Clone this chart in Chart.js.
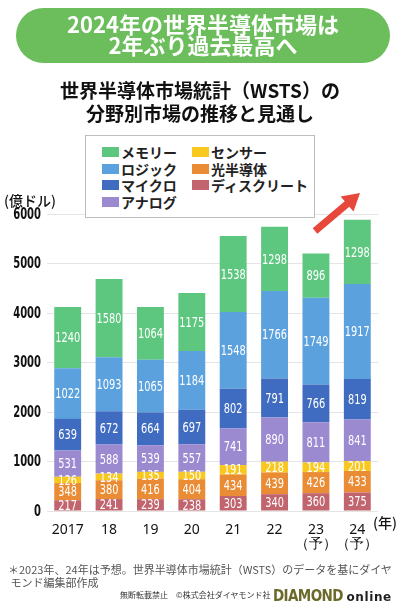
<!DOCTYPE html>
<html lang="ja">
<head>
<meta charset="utf-8">
<script src="https://cdn.jsdelivr.net/npm/chart.js@4"></script>
<style>
  body { margin: 0; background: #fff; font-family: "Noto Sans CJK JP", sans-serif; }
  #page { position: relative; width: 400px; height: 608px; overflow: hidden; }
  #chart { position: absolute; left: 0; top: 0; }
  .banner {
    position: absolute; left: 16px; top: 8px; width: 374px; height: 55px;
    border-radius: 28px; background: #6cbe5c; color: #fff;
    font-weight: 700; font-size: 22px; line-height: 21px; text-align: center;
    box-sizing: border-box; padding-top: 5px;
  }
  .subtitle {
    position: absolute; left: 0; width: 400px; top: 78px;
    font-weight: 700; font-size: 19px; line-height: 23px; text-align: center; color: #111;
  }
  #legend {
    position: absolute; left: 85px; top: 135px; width: 230px; height: 83px;
    box-sizing: border-box; border: 1px solid #bdbdbd; background: #fff; z-index: 2;
  }
  .item { position: absolute; font-weight: 700; font-size: 14px; line-height: 16px; color: #222; white-space: nowrap; }
  .item span.sw { position: absolute; left: -19px; top: 3px; width: 17px; height: 10px; }
  .unit { position: absolute; font-size: 14px; color: #111; font-weight: 500; white-space: nowrap; }
  .note { position: absolute; left: 8px; top: 563px; font-size: 11px; line-height: 13px; color: #555; width: 392px; }
  .copy { position: absolute; left: 120px; top: 589px; font-size: 8px; color: #333; }
  .brand { position: absolute; left: 273px; top: 586px; font-weight: 700; white-space: nowrap; line-height: 16px; }
  .brand .d { font-family: "DejaVu Sans Condensed", sans-serif; font-size: 15px; color: #6b6a2a; letter-spacing: -0.6px; }
  .brand .o { font-family: "DejaVu Sans", sans-serif; font-size: 12px; color: #1f1f1f; letter-spacing: 0.6px; }
</style>
</head>
<body>
<div id="page">
  <canvas id="chart" width="400" height="608"></canvas>
  <div class="banner">2024年の世界半導体市場は<br>2年ぶり過去最高へ</div>
  <div class="subtitle">世界半導体市場統計（WSTS）の<br>分野別市場の推移と見通し</div>
  <div id="legend"></div>
  <div class="unit" style="left:4px; top:190px;">(億ドル)</div>
  <div class="unit" style="left:373px; top:512px;">(年)</div>
  <svg style="position:absolute; left:0; top:0;" width="400" height="608">
    <polygon fill="#e8473b" points="317.3,233.7 349.3,206.7 353.5,211.6 360,193 340.6,196.4 344.7,201.3 312.7,228.3"/>
  </svg>
  <div class="note">＊2023年、24年は予想。世界半導体市場統計（WSTS）のデータを基にダイヤ<br>&nbsp;モンド編集部作成</div>
  <div class="copy">無断転載禁止　©株式会社ダイヤモンド社</div>
  <div class="brand"><span class="d">DIAMOND</span> <span class="o">online</span></div>
</div>
<script>
// 年
const years = ['2017', '18', '19', '20', '21', '22', ['23', '（予）'], ['24', '（予）']];

// 分野別市場（億ドル）
const discrete = [217, 241, 239, 238, 303, 340, 360, 375];
const opto = [348, 380, 416, 404, 434, 439, 426, 433];
const sensor = [126, 134, 135, 150, 191, 218, 194, 201];
const analog = [531, 588, 539, 557, 741, 890, 811, 841];
const micro = [639, 672, 664, 697, 802, 791, 766, 819];
const logic = [1022, 1093, 1065, 1184, 1548, 1766, 1749, 1917];
const memory = [1240, 1580, 1064, 1175, 1538, 1298, 896, 1298];

const yTicks = [0, 1000, 2000, 3000, 4000, 5000, 6000];

const narrow = '"DejaVu Sans Condensed", sans-serif';

// 細長い数字を描く（横方向に縮める）
function narrowText(ctx, text, x, y, sx) {
    ctx.save();
    ctx.translate(x, y);
    ctx.scale(sx, 1);
    ctx.fillText(text, 0, 0);
    ctx.restore();
}

// 積み上げの中の数値と、Y軸の目盛り数字
const numberLabels = {
    id: 'numberLabels',
    afterDatasetsDraw(chart) {
        const ctx = chart.ctx;
        ctx.save();
        ctx.fillStyle = '#fff';
        ctx.font = '14px ' + narrow;
        ctx.textAlign = 'center';
        ctx.textBaseline = 'middle';
        chart.data.datasets.forEach((ds, i) => {
            chart.getDatasetMeta(i).data.forEach((bar, j) => {
                narrowText(ctx, ds.data[j], bar.x, (bar.y + bar.base) / 2 + 1, 0.78);
            });
        });

        const y = chart.scales.y;
        ctx.fillStyle = '#111';
        ctx.font = 'bold 15px ' + narrow;
        ctx.textAlign = 'right';
        y.ticks.forEach(t => {
            narrowText(ctx, String(t.value), y.right - 6, y.getPixelForValue(t.value) + 1, 0.74);
        });
        ctx.restore();
    }
};

const chart = new Chart(document.getElementById('chart'), {
    type: 'bar',
    data: {
        labels: years,
        datasets: [
            { label: 'ディスクリート', data: discrete, backgroundColor: '#c1646d' },
            { label: '光半導体', data: opto, backgroundColor: '#ea8c35' },
            { label: 'センサー', data: sensor, backgroundColor: '#f8c81e' },
            { label: 'アナログ', data: analog, backgroundColor: '#9c8ad1' },
            { label: 'マイクロ', data: micro, backgroundColor: '#3f6cc1' },
            { label: 'ロジック', data: logic, backgroundColor: '#5aa1dd' },
            { label: 'メモリー', data: memory, backgroundColor: '#5ec77f' }
        ]
    },
    options: {
        responsive: false,
        animation: false,
        barPercentage: 0.65,
        categoryPercentage: 1,
        layout: { padding: { left: 0, right: 22, top: 214, bottom: 57 } },
        plugins: { legend: { display: false }, tooltip: { enabled: false } },
        scales: {
            x: {
                stacked: true,
                grid: { display: false },
                border: { display: false },
                ticks: { color: '#111', font: { family: '"Noto Sans", sans-serif', size: 14, lineHeight: 1.0 }, padding: 4, maxRotation: 0, autoSkip: false },
                afterFit: scale => { scale.height = 40; }
            },
            y: {
                stacked: true,
                min: 0,
                max: 6000,
                afterBuildTicks: scale => { scale.ticks = yTicks.map(v => ({ value: v })); },
                grid: { color: '#e4e4e4', drawTicks: false },
                border: { display: false },
                ticks: { display: false },
                afterFit: scale => { scale.width = 47; }
            }
        }
    },
    plugins: [numberLabels]
});

// 凡例（上から積み上げの逆順、2列）
const legend = document.getElementById('legend');
const order = chart.data.datasets.slice().reverse();
const rowsY = [8, 24.5, 41, 57.5];
order.forEach((ds, k) => {
    const col = Math.floor(k / 4), row = k % 4;
    const el = document.createElement('div');
    el.className = 'item';
    el.style.left = (col === 0 ? 35 : 125) + 'px';
    el.style.top = rowsY[row] + 'px';
    el.innerHTML = '<span class="sw" style="background:' + ds.backgroundColor + '"></span>' + ds.label;
    legend.appendChild(el);
});
</script>
</body>
</html>
